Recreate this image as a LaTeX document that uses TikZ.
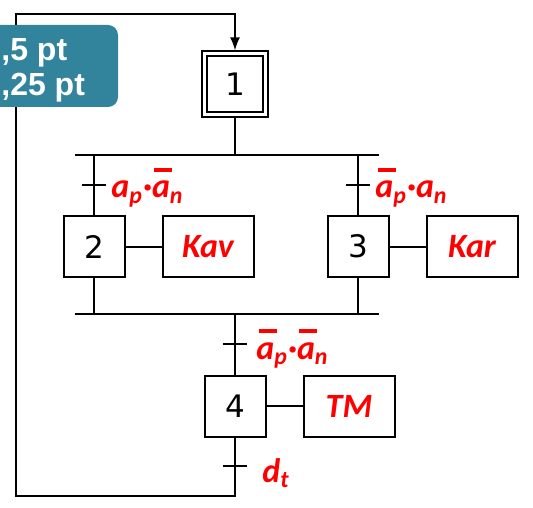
\documentclass[tikz,border=0pt]{standalone}
\usepackage{fontspec}
\setmainfont{DejaVu Sans}
\newfontfamily\recfont{Carlito}
\newfontfamily\tagfont{Liberation Sans}
\usepackage{xcolor}
\usetikzlibrary{positioning,arrows.meta,calc}
\definecolor{GRred}{HTML}{FF0000}
\definecolor{GRteal}{HTML}{31849B}
% negated variable: bar over the letter
\newcommand{\nv}[1]{\setbox0\hbox{#1}\rlap{\hspace{1.2pt}\raisebox{12.8pt}{\rule{\wd0}{2pt}}}\box0}
\tikzset{
  etape/.style={draw,line width=1pt,minimum width=30.5pt,minimum height=30.5pt,inner sep=0pt,font=\fontsize{15.5}{17}\selectfont},
  init/.style={etape,double,double distance=1.5pt,outer sep=1.75pt},
  action/.style={draw,line width=1pt,minimum width=45.5pt,minimum height=30.5pt,inner sep=0pt,text=GRred,font=\recfont\bfseries\itshape\fontsize{17}{19}\selectfont},
  recept/.style={text=GRred,font=\recfont\bfseries\itshape\fontsize{17}{19}\selectfont,inner sep=0pt,anchor=base west},
  badge/.style={text=white,font=\tagfont\bfseries\fontsize{16}{18}\selectfont,inner sep=0pt,anchor=base west},
  lien/.style={line width=1pt},
  fleche/.style={line width=1pt,-{Latex[length=6.5pt,width=5pt]}},
}
\begin{document}
\begin{tikzpicture}[x=0.5pt,y=-0.5pt]
\useasboundingbox (0,0) rectangle (533,507);
% steps and actions
\node[init] (e1) at (235,84.5) {1};
\node[etape] (e2) at (94,246.5) {2};
\node[action, right=18pt of e2] (a2) {Kav};
\node[etape] (e3) at (358,246.5) {3};
\node[action, right=18pt of e3] (a3) {Kar};
\node[etape] (e4) at (235,406) {4};
\node[action, right=18pt of e4] (a4) {TM};
% bars and loop corners
\coordinate (d1) at (75,155);
\coordinate (d2) at (379,155);
\coordinate (c1) at (75,314);
\coordinate (c2) at (379,314);
\coordinate (retour) at (16,496);
\coordinate (haut) at (16,14);
% transitions
\coordinate (t1) at (94,185);
\coordinate (t2) at (358,185);
\coordinate (t3) at (235,344);
\coordinate (t4) at (235,466);
\draw[lien] (d1) -- (d2);
\draw[lien] (c1) -- (c2);
\draw[lien] (e1) -- (e1 |- d1);
\draw[lien] (e2 |- d1) -- (e2);
\draw[lien] (e3 |- d1) -- (e3);
\draw[lien] (e2) -- (e2 |- c1);
\draw[lien] (e3) -- (e3 |- c1);
\draw[lien] (e4 |- c1) -- (e4);
\draw[lien] (e2) -- (a2);
\draw[lien] (e3) -- (a3);
\draw[lien] (e4) -- (a4);
\draw[fleche] (e4) -- (e4 |- retour) -- (retour) -- (haut) -- (haut -| e1) -- (e1);
\foreach \t in {t1,t2,t3,t4}
  \draw[lien] ([xshift=-6pt]\t) -- ([xshift=6pt]\t);
% receptivities
\node[recept] (r1) at (111,198) {a\textsubscript{p}·\nv{a}\textsubscript{n}};
\node[recept] (r2) at (375,198) {\nv{a}\textsubscript{p}·a\textsubscript{n}};
\node[recept] (r3) at (256,359) {\nv{a}\textsubscript{p}·\nv{a}\textsubscript{n}};
\node[recept] (r4) at (262,482) {d\textsubscript{t}};
% label in the corner
\fill[GRteal,rounded corners=5pt] (-20,25) rectangle (118,107);
\node[badge] (tag1) at (1,61) {,5 pt};
\node[badge] (tag2) at (1,96) {,25 pt};
\end{tikzpicture}
\end{document}
